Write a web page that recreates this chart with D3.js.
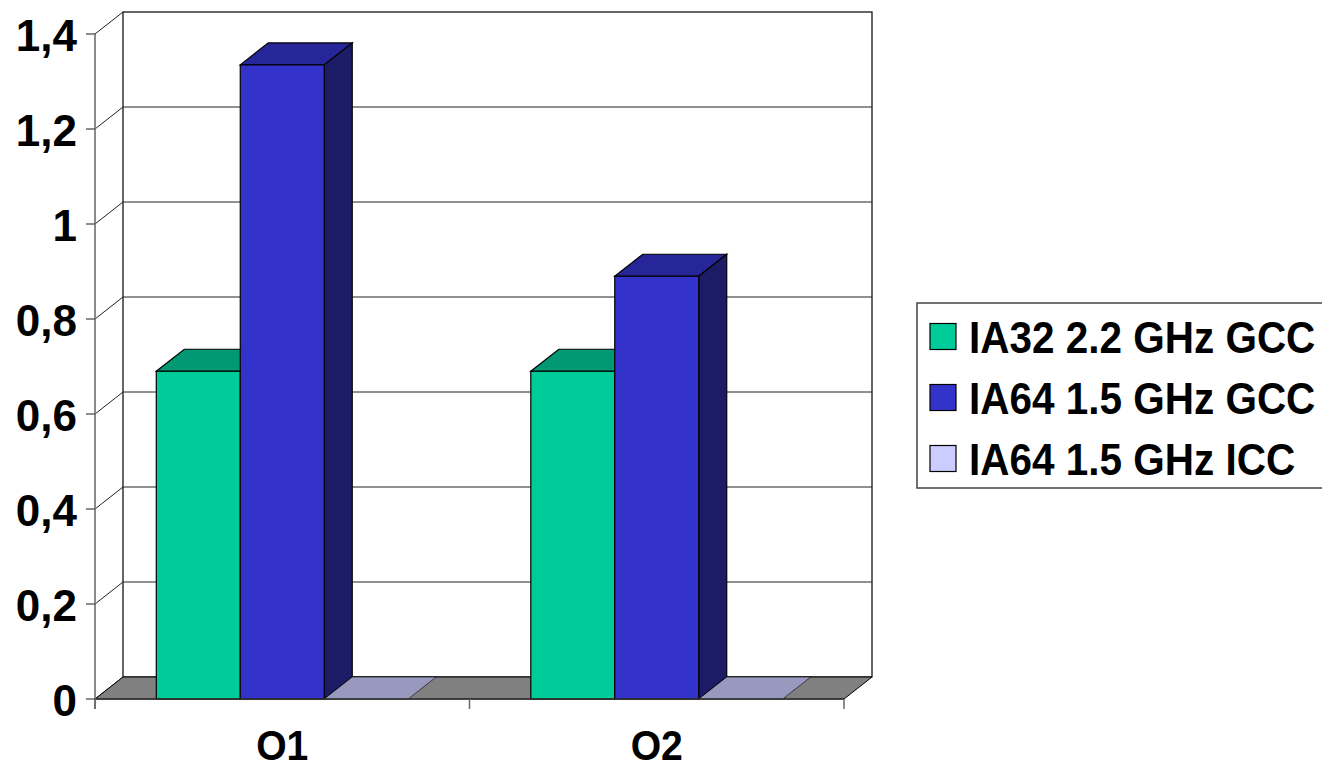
<!DOCTYPE html>
<html><head><meta charset="utf-8">
<script src="https://cdn.jsdelivr.net/npm/d3@7"></script>
<style>body{margin:0;background:#fff}svg{display:block}text{font-family:"Liberation Sans",Arial,sans-serif;font-weight:bold;fill:#000}</style>
</head><body>
<script>
const categories = ["O1", "O2"];
const series = ["IA32 2.2 GHz GCC", "IA64 1.5 GHz GCC", "IA64 1.5 GHz ICC"];
const ia32gcc = [0.69, 0.69];
const ia64gcc = [1.335, 0.89];
const ia64icc = [0, 0];
const yTicks = [0, 0.2, 0.4, 0.6, 0.8, 1, 1.2, 1.4];
const yTickLabels = ["0", "0,2", "0,4", "0,6", "0,8", "1", "1,2", "1,4"];
const values = [ia32gcc, ia64gcc, ia64icc];
const frontColors = ["#00CC99", "#3333CC", "#CCCCFF"];
const topColors = ["#009973", "#262699", "#9999BF"];
const sideColors = ["#006B50", "#1C1C66", "#7A7A99"];

const W = 1322, H = 770;
const DX = 28, DY = -22;
const svg = d3.select("body").append("svg").attr("width", W).attr("height", H);
const y = d3.scaleLinear().domain([0, 1.4]).range([699, 34]);
const x = d3.scaleBand().domain(categories).range([95, 844]);
const xs = d3.scaleBand().domain(series).range([0, x.bandwidth()]).paddingOuter(0.73);

const x0 = 95, x1 = 844;
const g = svg.append("g");
// back wall
g.append("rect").attr("x", x0+DX).attr("y", y(1.4)+DY).attr("width", x1-x0).attr("height", y(0)-y(1.4))
  .attr("fill", "none").attr("stroke", "#000").attr("stroke-width", 1.2);
// gridlines + side wall diagonals
yTicks.forEach(t => {
  if (t > 0 && t < 1.4) g.append("line").attr("x1", x0+DX).attr("x2", x1+DX).attr("y1", y(t)+DY).attr("y2", y(t)+DY)
    .attr("stroke", "#222").attr("stroke-width", 1);
  g.append("line").attr("x1", x0).attr("x2", x0+DX).attr("y1", y(t)).attr("y2", y(t)+DY)
    .attr("stroke", "#222").attr("stroke-width", 1);
});
// floor
g.append("path").attr("d", `M${x0},${y(0)}L${x1},${y(0)}L${x1+DX},${y(0)+DY}L${x0+DX},${y(0)+DY}Z`)
  .attr("fill", "#808080").attr("stroke", "#000").attr("stroke-width", 1);

// bars
categories.forEach((c, ci) => {
  series.forEach((s, si) => {
    const v = values[si][ci];
    const bx = x(c) + xs(s), bw = xs.bandwidth();
    const top = y(v), bot = y(0);
    const bg = g.append("g");
    bg.append("path").attr("d", `M${bx},${top}L${bx+bw},${top}L${bx+bw+DX},${top+DY}L${bx+DX},${top+DY}Z`)
      .attr("fill", topColors[si]).attr("stroke", "#000").attr("stroke-width", v > 0 ? 1.2 : 0.6);
    if (v > 0) {
      bg.append("path").attr("d", `M${bx+bw},${top}L${bx+bw+DX},${top+DY}L${bx+bw+DX},${bot+DY}L${bx+bw},${bot}Z`)
        .attr("fill", sideColors[si]).attr("stroke", "#000").attr("stroke-width", 1.2);
      bg.append("rect").attr("x", bx).attr("y", top).attr("width", bw).attr("height", bot-top)
        .attr("fill", frontColors[si]).attr("stroke", "#000").attr("stroke-width", 1.2);
    }
  });
});

// axes
svg.append("line").attr("x1", x0).attr("x2", x0).attr("y1", y(1.4)).attr("y2", y(0)+10).attr("stroke", "#666").attr("stroke-width", 1.5);
svg.append("line").attr("x1", x0).attr("x2", x1).attr("y1", y(0)).attr("y2", y(0)).attr("stroke", "#333").attr("stroke-width", 1.5);
yTicks.forEach((t, i) => {
  svg.append("line").attr("x1", x0-9).attr("x2", x0).attr("y1", y(t)).attr("y2", y(t)).attr("stroke", "#666").attr("stroke-width", 1.5);
  svg.append("text").attr("x", 77).attr("y", y(t)+17).attr("text-anchor", "end")
    .attr("font-size", 44).text(yTickLabels[i]);
});
[x0, x(categories[1]), x1].forEach(px => {
  svg.append("line").attr("x1", px).attr("x2", px).attr("y1", y(0)).attr("y2", y(0)+10).attr("stroke", "#666").attr("stroke-width", 1.5);
});
categories.forEach(c => {
  svg.append("text").attr("transform", `translate(${x(c)+x.bandwidth()/2},760) scale(0.91,1)`)
    .attr("text-anchor", "middle").attr("font-size", 43).text(c);
});

// legend
const lg = svg.append("g");
lg.append("rect").attr("x", 917).attr("y", 303).attr("width", 420).attr("height", 185)
  .attr("fill", "#fff").attr("stroke", "#444").attr("stroke-width", 1.5);
series.forEach((s, i) => {
  const cy = 336.5 + i*61;
  lg.append("rect").attr("x", 930).attr("y", cy-13).attr("width", 26).attr("height", 26)
    .attr("fill", frontColors[i]).attr("stroke", "#000").attr("stroke-width", 1.2);
  lg.append("text").attr("transform", `translate(969,${cy+16}) scale(0.92,1)`)
    .attr("font-size", 44).text(s);
});
</script>
</body></html>
